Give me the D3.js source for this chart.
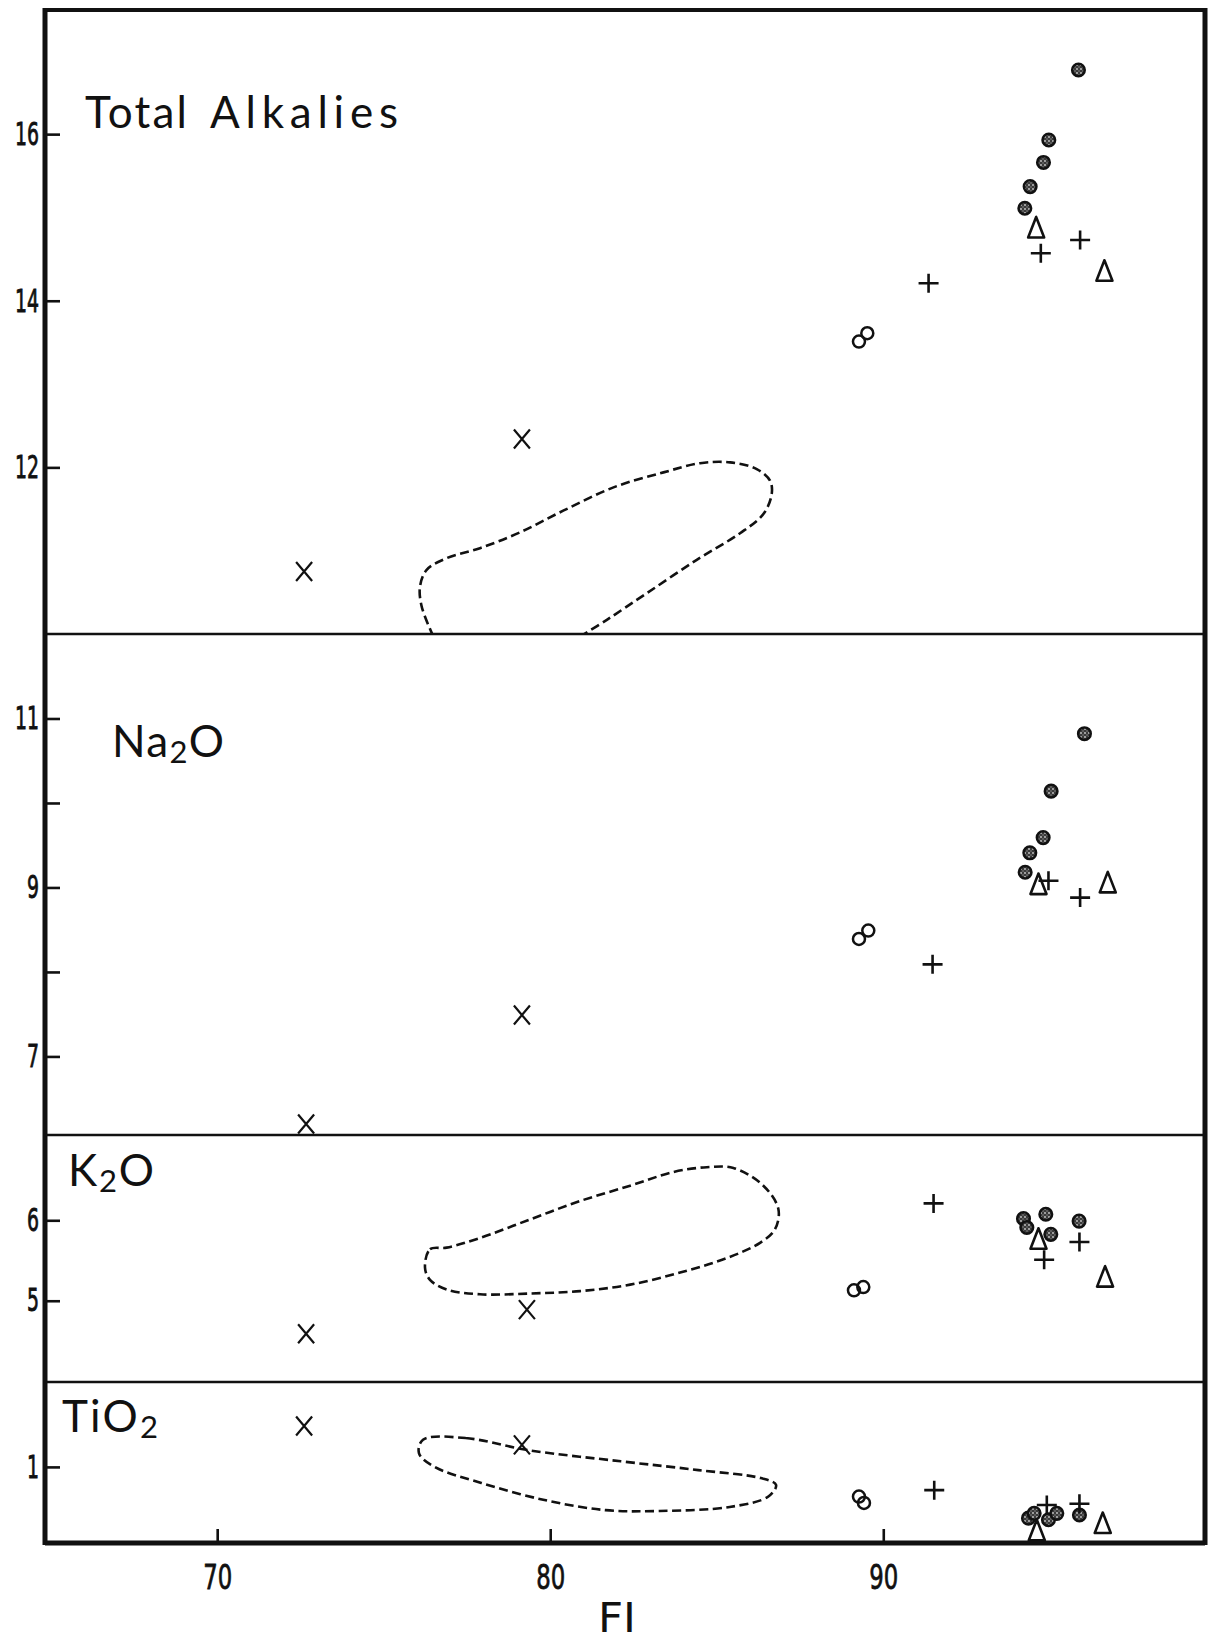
<!DOCTYPE html>
<html>
<head>
<meta charset="utf-8">
<script src="https://cdn.jsdelivr.net/npm/d3@7"></script>
<style>
  body { margin: 0; background: #fff; }
  svg { display: block; }
</style>
</head>
<body>
<svg id="chart" width="1213" height="1644"></svg>
<script>
// Shared horizontal axis: FI (differentiation index)
const fiDomain = [64.77, 99.72];
const fiTicks = [70, 80, 90];

// Value ranges and tick marks of the four stacked panels
const alkaliesDomain = [10, 17.49];
const alkaliesTicks = [12, 14, 16];
const na2oDomain = [6.07, 12];
const na2oTicks = [7, 8, 9, 10, 11];
const na2oLabelled = [7, 9, 11];
const k2oDomain = [3.99, 7.06];
const k2oTicks = [5, 6];
const tio2Domain = [0.05, 2.06];
const tio2Ticks = [1];

// Analyses: [symbol, FI, wt%]
// x = cross, o = open circle, s = stippled circle, p = plus, t = triangle
const alkaliesPoints = [
  ["s", 95.86, 16.77], ["s", 94.97, 15.93], ["s", 94.81, 15.66], ["s", 94.41, 15.37], ["s", 94.25, 15.11],
  ["t", 94.59, 14.88], ["t", 96.64, 14.36],
  ["p", 95.91, 14.73], ["p", 94.73, 14.57], ["p", 91.36, 14.21],
  ["o", 89.27, 13.51], ["o", 89.52, 13.61],
  ["x", 79.15, 12.34], ["x", 72.61, 10.75]
];
const na2oPoints = [
  ["s", 96.04, 10.82], ["s", 95.04, 10.14], ["s", 94.80, 9.59], ["s", 94.40, 9.41], ["s", 94.26, 9.18],
  ["t", 94.66, 9.04], ["t", 96.74, 9.06],
  ["p", 94.96, 9.08], ["p", 95.91, 8.88], ["p", 91.48, 8.09],
  ["o", 89.27, 8.39], ["o", 89.55, 8.49],
  ["x", 79.15, 7.49], ["x", 72.67, 6.20]
];
const k2oPoints = [
  ["s", 94.21, 6.02], ["s", 94.31, 5.91], ["s", 94.88, 6.075], ["s", 95.03, 5.825], ["s", 95.88, 5.99],
  ["t", 94.66, 5.77], ["t", 96.66, 5.30],
  ["p", 91.51, 6.21], ["p", 95.89, 5.73], ["p", 94.83, 5.51],
  ["o", 89.12, 5.13], ["o", 89.40, 5.17],
  ["x", 72.67, 4.59], ["x", 79.30, 4.89]
];
const tio2Points = [
  ["s", 94.36, 0.36], ["s", 94.53, 0.42], ["s", 94.96, 0.34], ["s", 95.21, 0.42], ["s", 95.89, 0.40],
  ["t", 94.61, 0.21], ["t", 96.59, 0.30],
  ["p", 91.53, 0.71], ["p", 94.91, 0.525], ["p", 95.89, 0.54],
  ["o", 89.27, 0.63], ["o", 89.42, 0.55],
  ["x", 72.61, 1.51], ["x", 79.15, 1.275]
];

// Dashed compositional fields: [FI, wt%]
const alkaliesField = [
  [76.49, 9.97], [76.14, 10.33], [76.09, 10.57], [76.29, 10.77], [76.89, 10.91], [77.89, 11.03],
  [79.09, 11.22], [80.39, 11.48], [81.90, 11.76], [83.40, 11.94], [84.50, 12.05], [85.40, 12.06],
  [86.20, 11.98], [86.60, 11.84], [86.65, 11.68], [86.40, 11.44], [85.70, 11.21], [84.40, 10.89],
  [82.90, 10.49], [81.70, 10.17], [80.90, 9.97]
];
const k2oField = [
  [76.24, 5.41], [76.39, 5.64], [76.89, 5.66], [77.89, 5.78], [79.39, 6.01], [80.90, 6.24],
  [82.40, 6.43], [83.70, 6.60], [84.70, 6.66], [85.50, 6.65], [86.40, 6.43], [86.85, 6.14],
  [86.75, 5.89], [86.30, 5.72], [85.30, 5.53], [83.90, 5.35], [82.40, 5.20], [80.90, 5.12],
  [79.39, 5.09], [77.89, 5.08], [76.89, 5.14], [76.39, 5.26]
];
const tio2Field = [
  [76.18, 1.34], [77.46, 1.36], [79.33, 1.21], [82.12, 1.07], [84.45, 0.96], [86.32, 0.86],
  [86.78, 0.775], [86.55, 0.63], [85.39, 0.50], [83.29, 0.45], [81.66, 0.46], [79.79, 0.59],
  [77.93, 0.80], [76.53, 1.00], [76.06, 1.17]
];

// ---------------------------------------------------------------- layout
const frameLeft = 45, frameRight = 1205, frameTop = 10, frameBottom = 1543;
const splits = [634, 1135, 1382];

const svg = d3.select("#chart");
const defs = svg.append("defs");

// stipple fill for the speckled circles
const pat = defs.append("pattern")
  .attr("id", "stipple").attr("patternUnits", "userSpaceOnUse")
  .attr("width", 4).attr("height", 4);
pat.append("rect").attr("width", 4).attr("height", 4).attr("fill", "#3a3a3a");
pat.append("circle").attr("cx", 1).attr("cy", 1).attr("r", 0.9).attr("fill", "#ccc");
pat.append("circle").attr("cx", 3).attr("cy", 3).attr("r", 0.7).attr("fill", "#999");

const x = d3.scaleLinear().domain(fiDomain).range([43, 1207]);

const panels = [
  { id: "alk", domain: alkaliesDomain, y0: frameTop, y1: splits[0], ticks: alkaliesTicks, lab: alkaliesTicks,
    points: alkaliesPoints, field: alkaliesField, closed: false },
  { id: "na", domain: na2oDomain, y0: splits[0], y1: splits[1], ticks: na2oTicks, lab: na2oLabelled,
    points: na2oPoints, field: null },
  { id: "k", domain: k2oDomain, y0: splits[1], y1: splits[2], ticks: k2oTicks, lab: k2oTicks,
    points: k2oPoints, field: k2oField, closed: true },
  { id: "ti", domain: tio2Domain, y0: splits[2], y1: frameBottom, ticks: tio2Ticks, lab: tio2Ticks,
    points: tio2Points, field: tio2Field, closed: true }
];

const ink = "#111";
const markers = {
  x: "M-8,-9.5L8,9.5M8,-9.5L-8,9.5",
  p: "M-10,0H10M0,-9.5V9.5",
  t: "M0,-10.5L-8,10H8Z"
};
const tickFont = "'DejaVu Sans', sans-serif";

panels.forEach(p => {
  const y = d3.scaleLinear().domain(p.domain).range([p.y1, p.y0]);

  defs.append("clipPath").attr("id", "clip-" + p.id)
    .append("rect").attr("x", frameLeft).attr("y", p.y0)
    .attr("width", frameRight - frameLeft).attr("height", p.y1 - p.y0);

  // y axis with inward ticks
  const ax = d3.axisLeft(y).tickValues(p.ticks)
    .tickSizeInner(-15).tickSizeOuter(0).tickPadding(6)
    .tickFormat(d => p.lab.includes(d) ? d3.format("d")(d) : "");
  const g = svg.append("g").attr("transform", `translate(${frameLeft},0)`)
    .call(ax).attr("font-size", 32).attr("font-family", tickFont);
  g.select(".domain").remove();
  g.selectAll(".tick line").attr("stroke", ink).attr("stroke-width", 2.6);
  g.selectAll(".tick text")
    .attr("fill", ink).attr("stroke", ink).attr("stroke-width", 0.9)
    .attr("font-size", 32)
    .each(function() {
      const t = d3.select(this).text();
      if (t) d3.select(this).attr("textLength", t.length * 12).attr("lengthAdjust", "spacingAndGlyphs");
    });

  // field outline
  if (p.field) {
    const line = d3.line()
      .x(d => x(d[0])).y(d => y(d[1]))
      .curve(p.closed ? d3.curveCatmullRomClosed.alpha(0.5) : d3.curveCatmullRom.alpha(0.5));
    svg.append("path")
      .attr("clip-path", `url(#clip-${p.id})`)
      .attr("d", line(p.field))
      .attr("fill", "none").attr("stroke", ink)
      .attr("stroke-width", 2.6).attr("stroke-dasharray", "9,4.5");
  }

  // symbols
  const mg = svg.append("g").attr("clip-path", `url(#clip-${p.id})`);
  p.points.forEach(([s, fi, v]) => {
    const cx = x(fi), cy = y(v);
    if (s === "o") {
      mg.append("circle").attr("cx", cx).attr("cy", cy).attr("r", 6)
        .attr("fill", "none").attr("stroke", ink).attr("stroke-width", 2.5);
    } else if (s === "s") {
      mg.append("circle").attr("cx", cx).attr("cy", cy).attr("r", 6.3)
        .attr("fill", "url(#stipple)").attr("stroke", ink).attr("stroke-width", 2.5);
    } else {
      mg.append("path").attr("transform", `translate(${cx},${cy})`)
        .attr("d", markers[s]).attr("fill", "none")
        .attr("stroke", ink).attr("stroke-width", s === "x" ? 2.2 : 2.6)
        .attr("stroke-linejoin", "round");
    }
  });
});

// x axis along the bottom edge, ticks pointing inward
const xa = d3.axisBottom(x).tickValues(fiTicks)
  .tickSizeInner(-14).tickSizeOuter(0).tickPadding(22).tickFormat(d3.format("d"));
const xg = svg.append("g").attr("transform", `translate(0,${frameBottom})`)
  .call(xa).attr("font-size", 34).attr("font-family", tickFont);
xg.select(".domain").remove();
xg.selectAll(".tick line").attr("stroke", ink).attr("stroke-width", 2.6);
xg.selectAll(".tick text").attr("fill", ink).attr("stroke", ink).attr("stroke-width", 0.8)
  .attr("font-size", 34)
  .attr("textLength", 29).attr("lengthAdjust", "spacingAndGlyphs");

// frame and panel dividers
const frame = svg.append("g").attr("stroke", ink).attr("fill", "none");
frame.append("line").attr("x1", frameLeft).attr("x2", frameLeft).attr("y1", frameTop - 2).attr("y2", frameBottom + 2).attr("stroke-width", 5);
frame.append("line").attr("x1", frameRight).attr("x2", frameRight).attr("y1", frameTop - 2).attr("y2", frameBottom + 2).attr("stroke-width", 5);
frame.append("line").attr("x1", frameLeft).attr("x2", frameRight).attr("y1", frameTop).attr("y2", frameTop).attr("stroke-width", 4);
frame.append("line").attr("x1", frameLeft).attr("x2", frameRight).attr("y1", frameBottom).attr("y2", frameBottom).attr("stroke-width", 5);
splits.forEach(s => frame.append("line").attr("x1", frameLeft).attr("x2", frameRight)
  .attr("y1", s).attr("y2", s).attr("stroke-width", 2.6));

// panel titles
const titleFont = "Lato, 'DejaVu Sans', sans-serif";
function title(xp, yp, parts, width) {
  const t = svg.append("text").attr("x", xp).attr("y", yp)
    .attr("fill", ink).style("font-family", titleFont).style("font-size", "44px")
    .attr("textLength", width).attr("lengthAdjust", "spacing");
  parts.forEach(([txt, sub], i) => {
    t.append("tspan").text(txt)
      .style("font-size", sub ? "31px" : "44px")
      .attr("dy", sub ? 6 : (i > 0 ? -6 : 0));
  });
  return t;
}
title(85, 128, [["Total"]], 102);
title(210, 128, [["Alkalies"]], 188);
title(112, 757, [["Na"], ["2", true], ["O"]], 112);
title(68, 1186, [["K"], ["2", true], ["O"]], 86);
title(62, 1432, [["TiO"], ["2", true]], 96);

// axis title
svg.append("text").attr("x", 617).attr("y", 1632).attr("text-anchor", "middle")
  .attr("fill", ink).style("font-family", tickFont).style("font-size", "40px")
  .attr("textLength", 38).attr("lengthAdjust", "spacingAndGlyphs")
  .text("FI");
</script>
</body>
</html>
